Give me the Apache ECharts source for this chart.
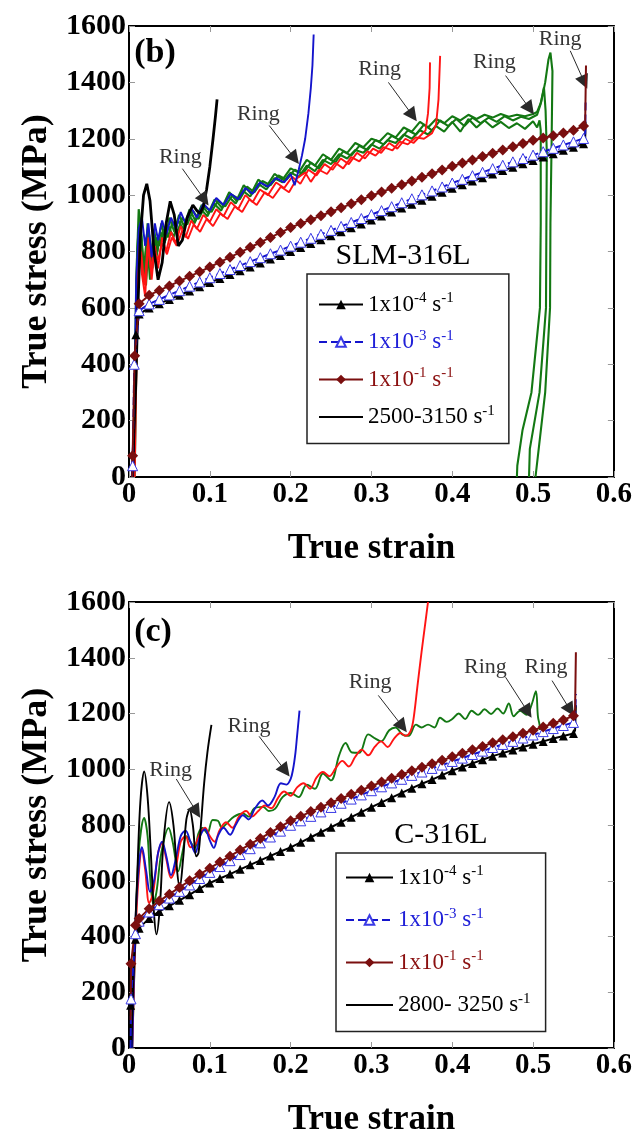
<!DOCTYPE html>
<html><head><meta charset="utf-8">
<script src="https://cdn.jsdelivr.net/npm/echarts@6/dist/echarts.min.js"></script>
<style>html,body{margin:0;padding:0;background:#fff}#c{width:635px;height:1138px}</style>
</head><body><div id="c"></div>
<script>
// ---------- Panel (b) SLM-316L : quasi-static curves (marker strains) ----------
const strainB = [0.0125,0.025,0.0375,0.05,0.0625,0.075,0.0875,0.1,0.1125,0.125,0.1375,0.15,0.1625,0.175,0.1875,0.2,0.2125,0.225,0.2375,0.25,0.2625,0.275,0.2875,0.3,0.3125,0.325,0.3375,0.35,0.3625,0.375,0.3875,0.4,0.4125,0.425,0.4375,0.45,0.4625,0.475,0.4875,0.5,0.5125,0.525,0.5375,0.55,0.5625];
const b1e4 = [578,600,615,630,645,660,675,690,704,718,732,745,759,773,786,800,814,828,842,856,870,884,898,912,926,940,954,968,982,996,1010,1024,1037,1050,1062,1075,1087,1099,1111,1123,1135,1147,1159,1170,1182];
const b1e3 = [590,614,630,646,661,677,692,707,722,736,750,764,778,792,805,819,833,847,861,875,889,903,917,931,945,959,973,987,1001,1015,1029,1043,1056,1069,1081,1094,1106,1118,1130,1142,1154,1166,1178,1189,1201];
const b1e1 = [615,645,662,678,695,712,728,745,762,780,797,815,832,850,867,885,899,913,927,941,955,969,984,998,1011,1024,1037,1050,1063,1076,1089,1102,1114,1125,1137,1149,1160,1172,1183,1195,1203,1211,1220,1230,1245];
const b1e4Rise = [[0.005,0],[0.0085,505]];
const b1e3Rise = [[0.004,0],[0.0045,40],[0.0065,400]];
const b1e1Rise = [[0.004,0],[0.0045,75],[0.007,430]];
const b1e4End = [[0.5645,1200],[0.565,1260]];
const b1e3End = [[0.5645,1215],[0.565,1335]];
const b1e1End = [[0.5645,1260],[0.5655,1460]];

// ---------- Panel (b) dynamic curves ----------
const dynB_black = [[0.004,0],[0.008,300],[0.011,600],[0.014,850],[0.018,1000],[0.022,1040],[0.026,980],[0.031,800],[0.036,700],[0.041,760],[0.046,900],[0.051,978],[0.056,930],[0.061,820],[0.066,840],[0.072,920],[0.079,965],[0.084,945],[0.088,935],[0.092,960],[0.096,1020],[0.1,1100],[0.104,1200],[0.107,1280],[0.109,1340]];
const dynB_blue = [[0.005,0],[0.009,700],[0.012,880],[0.016,920],[0.02,820],[0.024,900],[0.028,780],[0.032,900],[0.036,840],[0.041,910],[0.046,860],[0.052,920],[0.058,880],[0.064,940],[0.07,900],[0.077,955],[0.084,920],[0.092,970],[0.1,945],[0.108,990],[0.117,965],[0.126,1005],[0.135,985],[0.144,1025],[0.153,1005],[0.162,1045],[0.172,1030],[0.182,1060],[0.192,1045],[0.2,1075],[0.205,1035],[0.21,1090],[0.214,1140],[0.218,1200],[0.222,1290],[0.225,1380],[0.227,1460],[0.2285,1570]];
const dynB_red1 = [[0.006,0],[0.01,650],[0.013,850],[0.016,720],[0.02,640],[0.024,850],[0.028,700],[0.032,820],[0.036,740],[0.041,850],[0.046,800],[0.052,870],[0.058,830],[0.064,890],[0.07,850],[0.077,910],[0.084,880],[0.092,930],[0.1,905],[0.108,950],[0.117,925],[0.126,975],[0.135,950],[0.144,1000],[0.153,975],[0.162,1020],[0.172,1000],[0.182,1045],[0.192,1025],[0.202,1065],[0.212,1040],[0.222,1090],[0.232,1070],[0.242,1110],[0.252,1090],[0.262,1130],[0.272,1110],[0.282,1150],[0.292,1130],[0.302,1165],[0.312,1150],[0.322,1185],[0.332,1165],[0.342,1200],[0.352,1185],[0.362,1215],[0.367,1230],[0.37,1290],[0.372,1380],[0.3725,1471]];
const dynB_red2 = [[0.007,0],[0.011,700],[0.015,800],[0.019,680],[0.023,820],[0.027,740],[0.031,800],[0.036,770],[0.041,830],[0.047,790],[0.053,850],[0.059,820],[0.066,875],[0.073,845],[0.08,895],[0.088,870],[0.096,915],[0.104,890],[0.113,935],[0.122,915],[0.131,960],[0.14,940],[0.149,985],[0.158,965],[0.168,1010],[0.178,990],[0.188,1030],[0.198,1010],[0.208,1060],[0.218,1080],[0.225,1047],[0.235,1090],[0.245,1075],[0.255,1115],[0.265,1095],[0.275,1135],[0.285,1120],[0.295,1155],[0.305,1140],[0.315,1170],[0.326,1159],[0.335,1190],[0.345,1180],[0.355,1205],[0.365,1200],[0.375,1220],[0.38,1250],[0.383,1340],[0.385,1494]];
const dynB_green1 = [[0.005,0],[0.009,700],[0.012,950],[0.015,880],[0.019,700],[0.023,900],[0.027,760],[0.031,880],[0.035,800],[0.04,900],[0.045,840],[0.05,920],[0.056,870],[0.062,930],[0.068,890],[0.075,950],[0.082,910],[0.09,965],[0.098,935],[0.106,985],[0.115,955],[0.124,1010],[0.133,980],[0.142,1035],[0.151,1005],[0.16,1055],[0.17,1030],[0.18,1075],[0.19,1055],[0.2,1095],[0.21,1080],[0.22,1125],[0.23,1105],[0.24,1145],[0.25,1125],[0.26,1165],[0.27,1150],[0.28,1185],[0.29,1170],[0.3,1200],[0.31,1190],[0.32,1220],[0.33,1205],[0.34,1240],[0.35,1225],[0.36,1260],[0.37,1240],[0.38,1270],[0.39,1255],[0.4,1280],[0.41,1265],[0.42,1285],[0.43,1270],[0.44,1285],[0.45,1275],[0.46,1288],[0.47,1278],[0.48,1285],[0.49,1280],[0.5,1288],[0.505,1295],[0.51,1330],[0.515,1400],[0.519,1480],[0.5215,1506],[0.524,1440],[0.523,1200],[0.5215,900],[0.521,600],[0.515,300],[0.503,0]];
const dynB_green2 = [[0.006,0],[0.01,800],[0.013,920],[0.017,780],[0.021,680],[0.025,860],[0.029,740],[0.033,850],[0.038,820],[0.043,880],[0.048,850],[0.054,905],[0.06,870],[0.066,920],[0.072,895],[0.079,945],[0.086,915],[0.094,960],[0.102,940],[0.11,980],[0.119,960],[0.128,1000],[0.137,985],[0.146,1030],[0.155,1010],[0.165,1050],[0.175,1035],[0.185,1070],[0.195,1055],[0.205,1090],[0.215,1075],[0.225,1115],[0.235,1095],[0.245,1135],[0.255,1115],[0.265,1155],[0.275,1140],[0.285,1175],[0.295,1160],[0.305,1195],[0.315,1180],[0.325,1210],[0.335,1195],[0.345,1230],[0.355,1215],[0.365,1250],[0.375,1230],[0.385,1265],[0.395,1245],[0.405,1270],[0.415,1245],[0.425,1275],[0.435,1255],[0.445,1275],[0.455,1260],[0.465,1280],[0.475,1265],[0.485,1278],[0.495,1270],[0.505,1285],[0.509,1320],[0.5135,1382],[0.5155,1300],[0.517,1150],[0.5165,900],[0.516,600],[0.508,300],[0.496,100],[0.495,0]];
const dynB_green3 = [[0.007,0],[0.011,750],[0.014,900],[0.018,720],[0.022,850],[0.026,700],[0.03,860],[0.034,780],[0.039,870],[0.044,830],[0.049,890],[0.055,850],[0.061,910],[0.067,880],[0.074,930],[0.081,900],[0.089,950],[0.097,925],[0.105,970],[0.114,945],[0.123,995],[0.132,970],[0.141,1015],[0.15,995],[0.16,1040],[0.17,1020],[0.18,1060],[0.19,1045],[0.2,1080],[0.21,1065],[0.22,1105],[0.23,1085],[0.24,1125],[0.25,1110],[0.26,1145],[0.27,1130],[0.28,1160],[0.29,1150],[0.3,1180],[0.31,1165],[0.32,1195],[0.33,1185],[0.34,1215],[0.35,1200],[0.36,1230],[0.37,1215],[0.38,1245],[0.39,1225],[0.4,1260],[0.41,1225],[0.42,1270],[0.43,1240],[0.44,1265],[0.45,1240],[0.46,1260],[0.47,1238],[0.48,1255],[0.49,1235],[0.5,1262],[0.505,1240],[0.508,1265],[0.5095,1230],[0.5095,900],[0.5085,600],[0.498,300],[0.487,167],[0.4805,40],[0.48,0]];

// ---------- Panel (c) C-316L : quasi-static curves ----------
const strainC = [0.0125,0.025,0.0375,0.05,0.0625,0.075,0.0875,0.1,0.1125,0.125,0.1375,0.15,0.1625,0.175,0.1875,0.2,0.2125,0.225,0.2375,0.25,0.2625,0.275,0.2875,0.3,0.3125,0.325,0.3375,0.35,0.3625,0.375,0.3875,0.4,0.4125,0.425,0.4375,0.45,0.4625,0.475,0.4875,0.5,0.5125,0.525,0.5375,0.55];
const c1e4 = [430,465,490,510,530,550,572,592,608,624,641,657,673,689,705,720,738,756,774,792,810,828,846,864,881,898,915,932,948,963,979,995,1008,1021,1034,1047,1058,1069,1080,1090,1100,1110,1119,1128];
const c1e3 = [455,488,514,538,562,585,608,630,651,672,694,715,736,757,778,799,815,831,847,863,878,893,908,923,937,951,964,978,990,1003,1015,1028,1040,1053,1065,1078,1089,1100,1112,1123,1135,1146,1157,1168];
const c1e1 = [465,500,527,552,576,600,623,645,667,688,710,731,752,773,794,815,831,848,864,880,895,910,925,940,954,968,981,995,1007,1020,1032,1045,1057,1070,1082,1095,1106,1117,1129,1140,1152,1165,1177,1192];
const c1e4Rise = [[0.001,0],[0.002,153],[0.008,390]];
const c1e3Rise = [[0.002,0],[0.0025,176],[0.008,410]];
const c1e1Rise = [[0.002,100],[0.0025,302],[0.008,440]];
const c1e4End = [[0.552,1140],[0.553,1230]];
const c1e3End = [[0.552,1180],[0.553,1270]];
const c1e1End = [[0.552,1215],[0.553,1420]];

// ---------- Panel (c) dynamic curves ----------
const dynC_black = [[0.003,0],[0.006,300],[0.01,600],[0.014,880],[0.0188,992],[0.023,900],[0.027,700],[0.031,480],[0.034,408],[0.038,500],[0.043,750],[0.0496,882],[0.055,800],[0.059,650],[0.0627,575],[0.067,680],[0.071,820],[0.075,855],[0.079,800],[0.0832,688],[0.086,700],[0.089,801],[0.093,950],[0.097,1060],[0.102,1159]];
const dynC_green = [[0.004,0],[0.008,400],[0.012,700],[0.0188,825],[0.023,760],[0.026,620],[0.03,516],[0.034,560],[0.04,700],[0.049,789],[0.054,740],[0.061,634],[0.066,700],[0.0713,760],[0.076,740],[0.0815,718],[0.086,770],[0.091,789],[0.097,770],[0.1035,818],[0.11,815],[0.115,790],[0.121,806],[0.13,830],[0.141,841],[0.148,830],[0.155,860],[0.166,865],[0.173,850],[0.181,859],[0.19,900],[0.2,915],[0.21,900],[0.22,945],[0.23,930],[0.24,985],[0.25,960],[0.26,1050],[0.268,1094],[0.276,1060],[0.285,1059],[0.296,1125],[0.305,1110],[0.312,1100],[0.322,1140],[0.33,1150],[0.338,1125],[0.346,1120],[0.355,1160],[0.362,1150],[0.37,1160],[0.378,1150],[0.385,1185],[0.393,1170],[0.4,1180],[0.408,1200],[0.416,1180],[0.424,1210],[0.432,1195],[0.44,1215],[0.448,1198],[0.456,1218],[0.463,1200],[0.47,1236],[0.476,1190],[0.484,1210],[0.492,1195],[0.498,1230],[0.5035,1280],[0.506,1190],[0.508,1160],[0.5085,1141]];
const dynC_red = [[0.004,0],[0.008,400],[0.012,620],[0.016,710],[0.02,640],[0.025,520],[0.03,560],[0.036,700],[0.041,735],[0.046,680],[0.052,610],[0.058,650],[0.064,740],[0.07,760],[0.076,720],[0.082,730],[0.088,770],[0.094,790],[0.1,760],[0.106,740],[0.112,780],[0.12,810],[0.128,790],[0.136,830],[0.145,850],[0.152,830],[0.16,850],[0.168,870],[0.176,860],[0.185,900],[0.192,920],[0.2,905],[0.208,935],[0.216,950],[0.224,930],[0.232,970],[0.24,990],[0.248,975],[0.256,1005],[0.264,1030],[0.272,1010],[0.28,1045],[0.288,1070],[0.296,1050],[0.304,1080],[0.312,1100],[0.32,1080],[0.328,1110],[0.336,1130],[0.342,1120],[0.346,1125],[0.35,1150],[0.353,1200],[0.357,1300],[0.362,1420],[0.366,1510],[0.37,1600]];
const dynC_blue = [[0.004,0],[0.008,450],[0.012,650],[0.016,720],[0.021,640],[0.026,560],[0.031,600],[0.036,700],[0.041,740],[0.046,690],[0.052,620],[0.058,680],[0.064,760],[0.07,780],[0.076,740],[0.082,700],[0.088,760],[0.094,785],[0.1,745],[0.105,718],[0.11,760],[0.117,790],[0.125,765],[0.132,800],[0.141,835],[0.148,820],[0.156,860],[0.165,888],[0.172,870],[0.18,900],[0.188,950],[0.195,945],[0.2,965],[0.203,1000],[0.206,1060],[0.208,1120],[0.211,1210]];

// ---------- "Ring" annotations (text anchor, arrow start -> arrow tip) ----------
const ringTextB = [[0.0635,1135],[0.16,1288],[0.31,1447],[0.452,1471],[0.5335,1553]];
const ringArrowB = [[[0.066,1094],[0.0935,983]],[[0.1735,1247],[0.205,1130]],[[0.321,1400],[0.351,1282]],[[0.466,1424],[0.496,1306]],[[0.546,1512],[0.5635,1400]]];
const ringTextC = [[0.0515,998],[0.1485,1153],[0.2985,1312],[0.441,1365],[0.516,1365]];
const ringArrowC = [[[0.0585,965],[0.0835,847]],[[0.161,1118],[0.1935,994]],[[0.3085,1265],[0.3385,1153]],[[0.466,1330],[0.4935,1206]],[[0.5235,1318],[0.546,1212]]];

const legendLabels = {
  'q4': '{k|1x10}{ks|-4}{k| s}{ks|-1}',
  'q3': '{b|1x10}{bs|-3}{b| s}{bs|-1}',
  'q1': '{r|1x10}{rs|-1}{r| s}{rs|-1}',
  'dynB': '{k|2500-3150 s}{ks|-1}',
  'dynC': '{k|2800- 3250 s}{ks|-1}'
};

// ---------- styles ----------
const F = 'Liberation Serif';
const COL = {black:'#000000', blue:'#1414cc', red:'#ff1414', green:'#137813', brown:'#7a0f0f'};

function qsData(rise, strains, stresses, end) {
  const d = [];
  rise.forEach((p, i) => d.push(i === 0 ? {value: p, symbol: 'none'} : {value: p}));
  strains.forEach((s, i) => d.push({value: [s, stresses[i]]}));
  end.forEach(p => d.push({value: p, symbol: 'none'}));
  return d;
}
function qsSeries(name, gi, data, kind) {
  const base = {type:'line', name, xAxisIndex: gi*2, yAxisIndex: gi*2, data, animation:false, z:5};
  if (kind === 'q4') return Object.assign(base, {symbol:'triangle', symbolSize:9, color:COL.black,
    itemStyle:{color:COL.black}, lineStyle:{color:COL.black, width:2}});
  if (kind === 'q3') return Object.assign(base, {symbol:'triangle', symbolSize:10, color:COL.blue,
    itemStyle:{color:'#ffffff', borderColor:'#3a3ae6', borderWidth:1}, lineStyle:{color:COL.blue, width:2, type:[8,4]}});
  return Object.assign(base, {symbol:'diamond', symbolSize:11, color:COL.brown,
    itemStyle:{color:COL.brown}, lineStyle:{color:COL.brown, width:2}});
}
function dynSeries(name, gi, data, color, width, smooth) {
  return {type:'line', name, xAxisIndex: gi*2, yAxisIndex: gi*2, data, symbol:'none', showSymbol:false,
    smooth: smooth || false, color, lineStyle:{color, width}, animation:false, z:3};
}
function ringSeries(gi, texts, arrows) {
  return {type:'scatter', name:'ring'+gi, xAxisIndex: gi*2, yAxisIndex: gi*2, data: texts, symbolSize:0,
    animation:false, silent:true, z:6,
    label:{show:true, position:'inside', formatter:'Ring', fontFamily:F, fontSize:22, color:'#000'},
    markLine:{silent:true, animation:false, symbol:['none','triangle'], symbolSize:14,
      lineStyle:{color:'#2a2a2a', width:1, type:'solid'}, label:{show:false},
      data: arrows.map(a => [{coord:a[0]}, {coord:a[1]}])}};
}

const grids = [{left:129, top:26, width:488, height:451}, {left:129, top:602, width:488, height:450}];
const xAxes = [], yAxes = [];
grids.forEach((g, gi) => {
  const tick = {inside:true, length:6, lineStyle:{color:'#999', width:1}};
  const line = {onZero:false, lineStyle:{color:'#000', width:2}};
  xAxes.push({type:'value', gridIndex:gi, min:0, max:0.6, interval:0.1, position:'bottom',
    name:'True strain', nameLocation:'middle', nameGap:54,
    nameTextStyle:{fontFamily:F, fontWeight:'bold', fontSize:35, color:'#000'},
    axisLine:line, axisTick:tick, splitLine:{show:false},
    axisLabel:{fontFamily:F, fontWeight:'bold', fontSize:29, color:'#000', margin:3,
      formatter: v => v === 0 ? '0' : v.toFixed(1)}});
  xAxes.push({type:'value', gridIndex:gi, min:0, max:0.6, interval:0.1, position:'top',
    axisLine:line, axisTick:tick, splitLine:{show:false}, axisLabel:{show:false}});
  yAxes.push({type:'value', gridIndex:gi, min:0, max:1600, interval:200, position:'left',
    name:'True stress (MPa)', nameLocation:'middle', nameGap:56,
    nameTextStyle:{fontFamily:F, fontWeight:'bold', fontSize:36, color:'#000'},
    axisLine:line, axisTick:tick, splitLine:{show:false},
    axisLabel:{fontFamily:F, fontWeight:'bold', fontSize:30, color:'#000', margin:3, padding:[0,0,8,0],
      formatter: v => String(v)}});
  yAxes.push({type:'value', gridIndex:gi, min:0, max:1600, interval:200, position:'right',
    axisLine:line, axisTick:tick, splitLine:{show:false}, axisLabel:{show:false}});
});

const rich = {
  k:{color:'#000', fontFamily:F, fontSize:23, lineHeight:27},
  ks:{color:'#000', fontFamily:F, fontSize:15, lineHeight:15, verticalAlign:'top'},
  b:{color:'#2020d8', fontFamily:F, fontSize:23, lineHeight:27},
  bs:{color:'#2020d8', fontFamily:F, fontSize:15, lineHeight:15, verticalAlign:'top'},
  r:{color:'#8b1010', fontFamily:F, fontSize:23, lineHeight:27},
  rs:{color:'#8b1010', fontFamily:F, fontSize:15, lineHeight:15, verticalAlign:'top'}
};
function makeLegend(left, top, padding, gap, itemWidth, dynName) {
  return {orient:'vertical', left, top, padding, itemGap:gap, itemWidth, itemHeight:12,
    borderColor:'#222', borderWidth:1.5, backgroundColor:'#fff', selectedMode:false,
    data:['q4','q3','q1',{name:dynName, itemStyle:{opacity:0, borderWidth:0}}],
    formatter: n => legendLabels[n],
    textStyle:{fontFamily:F, fontSize:23, rich}};
}

const series = [
  dynSeries('gB1', 0, dynB_green1, COL.green, 2.1),
  dynSeries('gB2', 0, dynB_green2, COL.green, 2.1),
  dynSeries('gB3', 0, dynB_green3, COL.green, 2.1),
  dynSeries('rB1', 0, dynB_red1, COL.red, 1.9),
  dynSeries('rB2', 0, dynB_red2, COL.red, 1.9),
  dynSeries('bB', 0, dynB_blue, COL.blue, 1.9),
  dynSeries('dynB', 0, dynB_black, COL.black, 2.8),
  qsSeries('q4', 0, qsData(b1e4Rise, strainB, b1e4, b1e4End), 'q4'),
  qsSeries('q3', 0, qsData(b1e3Rise, strainB, b1e3, b1e3End), 'q3'),
  qsSeries('q1', 0, qsData(b1e1Rise, strainB, b1e1, b1e1End), 'q1'),
  ringSeries(0, ringTextB, ringArrowB),
  dynSeries('gC', 1, dynC_green, COL.green, 1.9, 0.35),
  dynSeries('rC', 1, dynC_red, COL.red, 1.9, 0.35),
  dynSeries('bC', 1, dynC_blue, COL.blue, 1.9, 0.35),
  dynSeries('dynC', 1, dynC_black, COL.black, 1.9, 0.35),
  qsSeries('q4', 1, qsData(c1e4Rise, strainC, c1e4, c1e4End), 'q4'),
  qsSeries('q3', 1, qsData(c1e3Rise, strainC, c1e3, c1e3End), 'q3'),
  qsSeries('q1', 1, qsData(c1e1Rise, strainC, c1e1, c1e1End), 'q1'),
  ringSeries(1, ringTextC, ringArrowC)
];

const chart = echarts.init(document.getElementById('c'), null, {renderer:'canvas'});
chart.setOption({
  backgroundColor:'#fff',
  animation:false,
  grid: grids,
  xAxis: xAxes,
  yAxis: yAxes,
  legend: [
    makeLegend(307, 274, [17,14,15,11], 12.5, 44, 'dynB'),
    makeLegend(336, 853, [11,15,15,9], 17.5, 47, 'dynC')
  ],
  graphic: [
    {type:'text', x:155, y:53, style:{text:'(b)', font:'bold 34px "Liberation Serif"', fill:'#000', align:'center', verticalAlign:'middle'}},
    {type:'text', x:403, y:256, style:{text:'SLM-316L', font:'30px "Liberation Serif"', fill:'#000', align:'center', verticalAlign:'middle'}},
    {type:'text', x:153, y:632, style:{text:'(c)', font:'bold 34px "Liberation Serif"', fill:'#000', align:'center', verticalAlign:'middle'}},
    {type:'text', x:441, y:835, style:{text:'C-316L', font:'30px "Liberation Serif"', fill:'#000', align:'center', verticalAlign:'middle'}}
  ],
  series
});
</script></body></html>
